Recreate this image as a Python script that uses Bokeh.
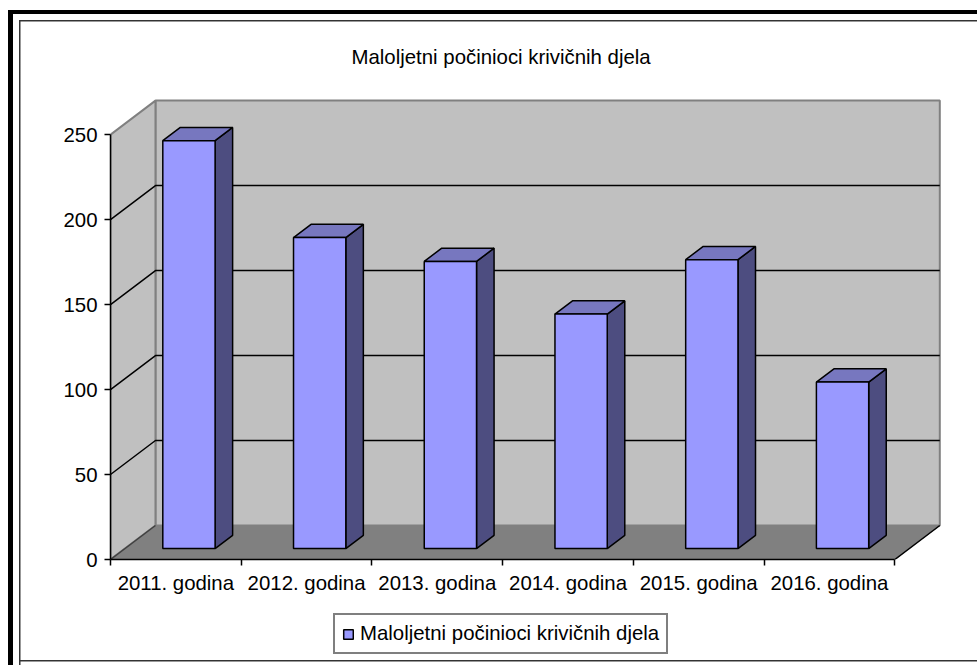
from bokeh.plotting import figure
from bokeh.layouts import column
from bokeh.models import FixedTicker, Legend, LegendItem, LinearAxis, Range1d, Title
from bokeh.embed import file_html
from bokeh.resources import INLINE

title_text = "Maloljetni počinioci krivičnih djela"
categories = ["2011. godina", "2012. godina", "2013. godina", "2014. godina", "2015. godina", "2016. godina"]
values = [240, 183, 169, 138, 170, 98]
y_ticks = [0, 50, 100, 150, 200, 250]
grid_levels = [50, 100, 150, 200]

FONT = "Liberation Sans"
FSIZE = "20.4px"
DX, DY = 0.344, 20.0      # depth of the fake 3D box, in data units
Z0, Z1 = 0.32, 0.71       # depth fraction of the bars
BW = 0.40                 # bar width in category units
X0 = 0.29                 # bar left offset within the category
YMAX = 250
N = len(categories)

# Chart-area frames are painted behind transparent canvases.
frames = [("8px 10px", "5px 100%", "#000"),        # thick left
          ("8px 10px", "100% 4px", "#000"),        # thick top
          ("19px 20px", "1.5px 100%", "#333"),     # thin left
          ("19px 20px", "100% 1.5px", "#333"),     # thin top
          ("19px 660px", "100% 1.5px", "#333")]    # thin bottom
frame_styles = {
    "background-color": "white",
    "background-repeat": "no-repeat",
    "background-image": ",".join(f"linear-gradient({c},{c})" for _, _, c in frames),
    "background-position": ",".join(pos for pos, _, _ in frames),
    "background-size": ",".join(sz for _, sz, _ in frames),
}

p = figure(width=977, height=612, frame_width=834, frame_height=464,
           output_backend="svg", toolbar_location=None,
           x_range=Range1d(0, 6.38), y_range=Range1d(0, 273),
           min_border_left=110, min_border_right=33, min_border_top=95, min_border_bottom=53,
           x_axis_type=None, y_axis_type=None, outline_line_color=None,
           background_fill_alpha=0, border_fill_alpha=0)
p.grid.visible = False

EDGE = "#808080"
# walls and floor
p.patch([DX, N + DX, N + DX, DX], [DY, DY, YMAX + DY, YMAX + DY], fill_color="#c0c0c0", line_color=EDGE, line_width=2)
p.patch([0, DX, DX, 0], [0, DY, YMAX + DY, YMAX], fill_color="#c0c0c0", line_color=EDGE, line_width=2)
p.patch([0, N, N + DX, DX], [0, 0, DY, DY], fill_color="#808080", line_color=EDGE, line_width=1)
p.line([N, N + DX], [0, DY], line_color="black", line_width=1.5)
p.line([0, DX], [0, DY], line_color="#404040", line_width=1.5)

# gridlines
for v in grid_levels:
    p.line([0, DX, N + DX], [v, v + DY, v + DY], line_color="black", line_width=1.5)

# bars
lefts = [i + X0 + Z0 * DX for i in range(N)]
rights = [l + BW for l in lefts]
bottoms = [Z0 * DY] * N
tops = [Z0 * DY + v for v in values]
dx = (Z1 - Z0) * DX
dy = (Z1 - Z0) * DY
BAR = dict(fill_color="#9999ff", line_color="black", line_width=1.5)
p.patches([[r, r + dx, r + dx, r] for r in rights],
          [[b, b + dy, t + dy, t] for b, t in zip(bottoms, tops)],
          fill_color="#4d4d80", line_color="black", line_width=1.5)
p.patches([[l, r, r + dx, l + dx] for l, r in zip(lefts, rights)],
          [[t, t, t + dy, t + dy] for t in tops],
          fill_color="#7777bf", line_color="black", line_width=1.5)
p.quad(left=lefts, right=rights, bottom=bottoms, top=tops, **BAR)

# axes
yaxis = LinearAxis(ticker=FixedTicker(ticks=y_ticks), bounds=(0, YMAX),
                   axis_line_color="black", axis_line_width=1.5,
                   major_tick_line_color="black", major_tick_line_width=1.5,
                   major_tick_in=0, major_tick_out=6, minor_tick_line_color=None,
                   major_label_standoff=7, major_label_text_font=FONT,
                   major_label_text_font_size=FSIZE, major_label_text_color="black")
p.add_layout(yaxis, "left")

centers = [i + 0.5 for i in range(N)]
xaxis = LinearAxis(ticker=FixedTicker(ticks=centers, minor_ticks=list(range(N + 1))), bounds=(0, N),
                   major_label_overrides={c: t for c, t in zip(centers, categories)},
                   axis_line_color="black", axis_line_width=1.5,
                   major_tick_line_color=None, major_tick_in=0, major_tick_out=0,
                   minor_tick_line_color="black", minor_tick_line_width=1.5,
                   minor_tick_in=0, minor_tick_out=6,
                   major_label_standoff=6, major_label_text_font=FONT,
                   major_label_text_font_size=FSIZE, major_label_text_color="black")
p.add_layout(xaxis, "below")

# title
p.add_layout(Title(text=title_text, align="left", offset=241, standoff=56, text_font=FONT,
                   text_font_size=FSIZE, text_font_style="normal", text_color="black"), "above")

# legend strip: a second figure whose whole canvas is its frame, so the legend is not clipped
strip = figure(width=977, height=53, output_backend="svg", toolbar_location=None,
               x_range=Range1d(100, 101), y_range=Range1d(1000, 1001),
               min_border=0, x_axis_type=None, y_axis_type=None, outline_line_color=None,
               background_fill_alpha=0, border_fill_alpha=0)
strip.grid.visible = False
key = strip.quad(left=lefts, right=rights, bottom=bottoms, top=tops, **BAR)
legend = Legend(items=[LegendItem(label=title_text, renderers=[key])], location=(223, 11),
                orientation="vertical", glyph_width=12, glyph_height=12, padding=7, margin=0,
                label_text_font=FONT, label_text_font_size=FSIZE, label_text_color="black",
                label_standoff=6, border_line_color="black", border_line_width=2,
                background_fill_color="white", background_fill_alpha=1)
strip.add_layout(legend, "center")

page = column(p, strip, spacing=0, width=977, height=665, styles=frame_styles)
open("out.html", "w").write(file_html(page, INLINE))
